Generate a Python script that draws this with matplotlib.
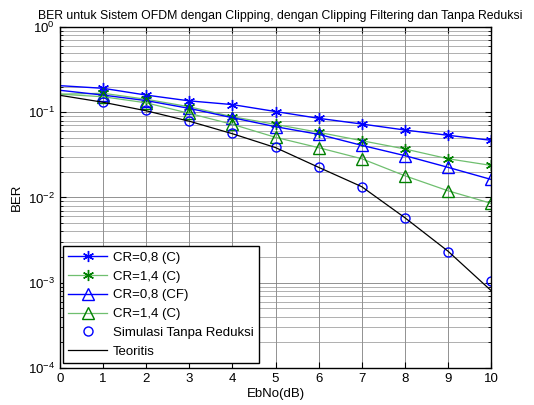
import numpy as np
import matplotlib.pyplot as plt
from matplotlib.ticker import FixedLocator

plt.rcParams['font.family'] = ['Liberation Sans', 'DejaVu Sans']
plt.rcParams['font.size'] = 9.5

ebno = [0, 1, 2, 3, 4, 5, 6, 7, 8, 9, 10]

ber_cr08_c  = [0.205, 0.191, 0.159, 0.136, 0.123, 0.102, 0.0849, 0.0728, 0.0619, 0.0537, 0.0469]
ber_cr14_c  = [0.163, 0.167, 0.142, 0.116, 0.0887, 0.072, 0.0582, 0.0464, 0.0371, 0.0285, 0.0238]
ber_cr08_cf = [0.181, 0.159, 0.137, 0.111, 0.0863, 0.0677, 0.0551, 0.0409, 0.0310, 0.0226, 0.0163]
ber_cr14_cf = [0.163, 0.152, 0.129, 0.097, 0.0722, 0.0508, 0.0384, 0.0285, 0.0180, 0.0120, 0.00855]
ber_sim     = [0.133, 0.106, 0.0796, 0.0566, 0.0388, 0.0228, 0.0134, 0.0057, 0.00231, 0.00105]
ebno_sim    = [1, 2, 3, 4, 5, 6, 7, 8, 9, 10]
ber_teori   = [0.158, 0.131, 0.104, 0.0785, 0.0560, 0.0385, 0.0226, 0.0134, 0.0058, 0.00235, 0.00081]

labels = ['CR=0,8 (C)', 'CR=1,4 (C)', 'CR=0,8 (CF)', 'CR=1,4 (C)',
          'Simulasi Tanpa Reduksi', 'Teoritis']

fig = plt.figure(figsize=(5.34, 4.05), dpi=100)
ax = fig.add_axes([0.1124, 0.0914, 0.8071, 0.8419])

star = (6, 2, 0)
ax.semilogy(ebno, ber_cr08_c, color='#0000ff', lw=1, marker=star, ms=8,
            markevery=slice(1, None), label=labels[0])
ax.semilogy(ebno, ber_cr14_c, color='#6fbf6f', lw=0.9, marker=star, ms=8,
            mec='#008000', markevery=slice(1, None), label=labels[1])
ax.semilogy(ebno, ber_cr08_cf, color='#0000ff', lw=1, marker='^', ms=8,
            mfc='none', markevery=slice(1, None), label=labels[2])
ax.semilogy(ebno, ber_cr14_cf, color='#6fbf6f', lw=0.9, marker='^', ms=8,
            mfc='none', mec='#008000', markevery=slice(1, None), label=labels[3])
ax.semilogy(ebno_sim, ber_sim, ls='none', marker='o', ms=6.5, mfc='none',
            mec='#0000ff', label=labels[4])
ax.semilogy(ebno, ber_teori, color='k', lw=0.9, label=labels[5])

ax.set_xlim(0, 10)
ax.set_ylim(1e-4, 1)
ax.set_xticks(range(0, 11))
ax.yaxis.set_major_locator(FixedLocator([1e-4, 1e-3, 1e-2, 1e-1, 1]))
ax.grid(True, which='major', color='#808080', lw=0.6, ls='-')
ax.grid(True, which='minor', axis='y', color='#909090', lw=0.5, ls='-')
ax.tick_params(which='both', direction='in', top=True, right=True)
ax.tick_params(which='major', length=4)
ax.tick_params(which='minor', length=2)
for s in ax.spines.values():
    s.set_linewidth(1)

ax.set_title('BER untuk Sistem OFDM dengan Clipping, dengan Clipping Filtering dan Tanpa Reduksi',
             fontsize=8.8, pad=6, x=0.51)
ax.set_xlabel('EbNo(dB)', labelpad=2)
ax.set_ylabel('BER')

leg = ax.legend(loc='lower left', bbox_to_anchor=(0.006, 0.014), borderaxespad=0,
                fancybox=False, edgecolor='k', framealpha=1,
                handlelength=3.0, handletextpad=0.4, labelspacing=0.5,
                fontsize=9.5)
leg.get_frame().set_linewidth(1)

fig.savefig('out.png', dpi=100)
